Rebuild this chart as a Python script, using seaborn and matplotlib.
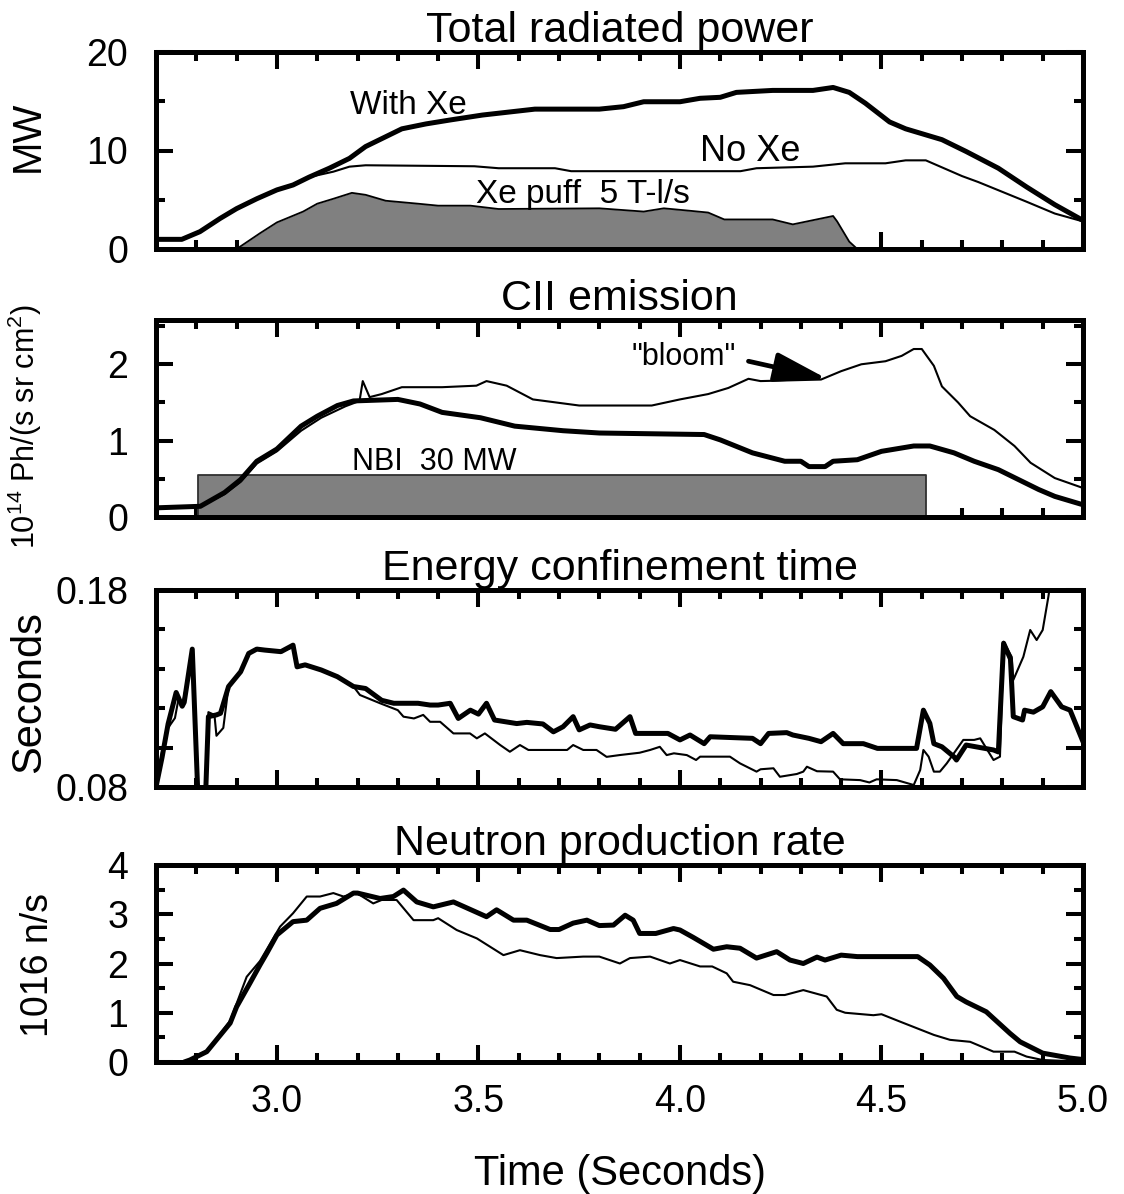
import numpy as np
import pandas as pd
import matplotlib
matplotlib.use("Agg")
import matplotlib.pyplot as plt
from matplotlib.ticker import MultipleLocator, FixedLocator, FixedFormatter
import seaborn as sns

# ---------------- data ----------------
# Panel 1: Total radiated power (MW)
p1_t_with = [2.70, 2.717, 2.764, 2.809, 2.859, 2.90, 2.95, 3.0, 3.04, 3.08, 3.13, 3.18, 3.22, 3.26, 3.31, 3.37,
             3.43, 3.51, 3.64, 3.80, 3.86, 3.91, 4.0, 4.05, 4.10, 4.14, 4.23, 4.33, 4.38, 4.42, 4.46, 4.52, 4.56,
             4.65, 4.71, 4.79, 4.86, 4.93, 5.0]
p1_v_with = [0.98, 0.98, 0.98, 1.76, 3.1, 4.1, 5.1, 6.0, 6.5, 7.3, 8.2, 9.2, 10.4, 11.2, 12.2, 12.7,
             13.1, 13.6, 14.2, 14.2, 14.45, 14.95, 14.95, 15.3, 15.4, 15.9, 16.1, 16.1, 16.4, 15.9, 14.8, 12.9, 12.2,
             11.1, 9.9, 8.2, 6.3, 4.5, 2.9]
p1_t_no = [2.70, 2.717, 2.764, 2.809, 2.859, 2.90, 2.95, 3.0, 3.04, 3.08, 3.14, 3.18, 3.22, 3.49, 3.55, 3.69,
           3.73, 3.88, 4.15, 4.19, 4.33, 4.41, 4.51, 4.56, 4.61, 4.70, 4.74, 4.86, 4.93, 5.0]
p1_v_no = [0.98, 0.98, 0.98, 1.76, 3.1, 4.1, 5.1, 6.0, 6.5, 7.3, 7.85, 8.36, 8.5, 8.4, 8.2, 8.2,
           7.9, 7.9, 7.9, 8.2, 8.36, 8.7, 8.7, 9.0, 9.0, 7.4, 6.8, 4.8, 3.6, 2.8]
p1_t_puff = [2.90, 2.958, 3.0, 3.065, 3.10, 3.14, 3.186, 3.22, 3.27, 3.35, 3.40, 3.48, 3.55, 3.80, 3.91, 3.96,
             4.02, 4.07, 4.11, 4.23, 4.28, 4.38, 4.39, 4.42, 4.44]
p1_v_puff = [0.0, 1.6, 2.7, 3.8, 4.6, 5.1, 5.7, 5.5, 4.9, 4.6, 4.4, 4.4, 4.06, 4.13, 3.8, 4.13,
             3.9, 3.7, 3.0, 3.0, 2.5, 3.35, 2.8, 0.75, 0.0]

# Panel 2: CII emission (1e14 Ph/(s sr cm2))
p2_t_thick = [2.70, 2.81, 2.87, 2.91, 2.95, 3.0, 3.06, 3.10, 3.15, 3.19, 3.30, 3.355, 3.41, 3.505, 3.59, 3.71,
              3.80, 4.06, 4.10, 4.18, 4.26, 4.30, 4.32, 4.36, 4.38, 4.44, 4.50, 4.58, 4.62, 4.68, 4.73, 4.79,
              4.84, 4.89, 4.93, 5.0]
p2_v_thick = [0.12, 0.14, 0.32, 0.49, 0.73, 0.89, 1.19, 1.32, 1.46, 1.52, 1.54, 1.48, 1.37, 1.30, 1.19, 1.13,
              1.10, 1.08, 1.01, 0.84, 0.73, 0.73, 0.66, 0.66, 0.73, 0.75, 0.86, 0.93, 0.93, 0.84, 0.73, 0.62,
              0.49, 0.36, 0.27, 0.16]
p2_t_thin = [2.70, 2.81, 2.87, 2.91, 2.95, 3.0, 3.06, 3.11, 3.17, 3.205, 3.213, 3.23, 3.26, 3.31, 3.41, 3.495,
             3.52, 3.57, 3.635, 3.75, 3.93, 4.0, 4.07, 4.12, 4.17, 4.20, 4.35, 4.40, 4.45, 4.51, 4.55, 4.58,
             4.60, 4.63, 4.65, 4.69, 4.72, 4.78, 4.83, 4.87, 4.93, 5.0]
p2_v_thin = [0.12, 0.14, 0.30, 0.46, 0.70, 0.86, 1.13, 1.30, 1.45, 1.52, 1.78, 1.57, 1.61, 1.70, 1.70, 1.72,
             1.78, 1.72, 1.54, 1.46, 1.46, 1.54, 1.61, 1.69, 1.81, 1.78, 1.80, 1.91, 2.0, 2.04, 2.11, 2.2,
             2.2, 1.98, 1.71, 1.50, 1.32, 1.14, 0.93, 0.71, 0.51, 0.38]
nbi_start = 2.805
nbi_end = 4.61
nbi_level = 0.55

# Panel 3: Energy confinement time (s)
p3_t_thick = [2.70, 2.715, 2.73, 2.75, 2.765, 2.77, 2.79, 2.805, 2.822, 2.83, 2.85, 2.86, 2.88, 2.91, 2.93, 2.95,
              2.97, 3.01, 3.04, 3.05, 3.07, 3.11, 3.15, 3.19, 3.22, 3.26, 3.29, 3.35, 3.38, 3.40, 3.43, 3.45,
              3.48, 3.50, 3.52, 3.54, 3.595, 3.62, 3.66, 3.686, 3.71, 3.735, 3.75, 3.777, 3.80, 3.84, 3.876,
              3.89, 3.97, 4.0, 4.025, 4.06, 4.075, 4.18, 4.20, 4.22, 4.265, 4.28, 4.32, 4.35, 4.38, 4.405,
              4.455, 4.49, 4.587, 4.604, 4.62, 4.63, 4.65, 4.68, 4.686, 4.71, 4.778, 4.79, 4.803, 4.82, 4.827,
              4.85, 4.855, 4.877, 4.90, 4.92, 4.947, 4.968, 5.0]
p3_v_thick = [0.080, 0.095, 0.112, 0.128, 0.121, 0.123, 0.150, 0.070, 0.070, 0.1157, 0.1166, 0.1174, 0.131, 0.1385,
              0.1478, 0.150, 0.1495, 0.1487, 0.152, 0.141, 0.142, 0.1394, 0.136, 0.131, 0.130, 0.124, 0.1225,
              0.1225, 0.1216, 0.1216, 0.1225, 0.1148, 0.119, 0.117, 0.1225, 0.114, 0.1122, 0.1128, 0.112, 0.108,
              0.1106, 0.1157, 0.109, 0.1115, 0.1106, 0.1093, 0.1157, 0.1072, 0.1072, 0.1039, 0.1064, 0.102,
              0.1055, 0.1047, 0.102, 0.1072, 0.1076, 0.1064, 0.1047, 0.103, 0.1072, 0.102, 0.102, 0.0996, 0.0996,
              0.119, 0.1123, 0.102, 0.1004, 0.0953, 0.0937, 0.1013, 0.0988, 0.0978, 0.153, 0.145, 0.1157, 0.114,
              0.119, 0.118, 0.1207, 0.1284, 0.1207, 0.119, 0.1030]
p3_t_thin = [2.70, 2.715, 2.73, 2.747, 2.757, 2.765, 2.79, 2.805, 2.82, 2.83, 2.845, 2.85, 2.867, 2.88, 2.91,
             2.93, 2.95, 2.97, 3.01, 3.04, 3.05, 3.07, 3.11, 3.15, 3.19, 3.206, 3.256, 3.30, 3.314, 3.34, 3.363,
             3.38, 3.405, 3.438, 3.479, 3.496, 3.516, 3.554, 3.578, 3.603, 3.624, 3.72, 3.735, 3.76, 3.793,
             3.818, 3.85, 3.90, 3.926, 3.95, 3.967, 3.985, 4.017, 4.04, 4.05, 4.124, 4.149, 4.19, 4.20, 4.232,
             4.248, 4.29, 4.306, 4.315, 4.34, 4.38, 4.397, 4.447, 4.47, 4.488, 4.538, 4.58, 4.596, 4.604, 4.617,
             4.63, 4.645, 4.662, 4.703, 4.73, 4.745, 4.778, 4.794, 4.803, 4.823, 4.827, 4.852, 4.869, 4.885,
             4.90, 4.914, 4.92, 4.95, 5.0]
p3_v_thin = [0.080, 0.098, 0.110, 0.115, 0.126, 0.121, 0.148, 0.070, 0.070, 0.118, 0.1166, 0.106, 0.110, 0.131,
             0.1385, 0.1478, 0.150, 0.1495, 0.1487, 0.151, 0.141, 0.142, 0.1394, 0.136, 0.131, 0.1267, 0.1225,
             0.119, 0.1157, 0.1148, 0.1166, 0.1131, 0.1131, 0.1072, 0.1072, 0.1047, 0.1072, 0.1013, 0.0979,
             0.1013, 0.0988, 0.0988, 0.1013, 0.0988, 0.0988, 0.0953, 0.0962, 0.0974, 0.0988, 0.1004, 0.0962,
             0.0971, 0.0962, 0.0937, 0.0954, 0.0954, 0.092, 0.0878, 0.089, 0.0895, 0.0852, 0.0866, 0.0878,
             0.0903, 0.088, 0.0878, 0.0839, 0.0835, 0.0823, 0.0839, 0.0835, 0.081, 0.0886, 0.0988, 0.0954,
             0.0878, 0.0878, 0.092, 0.1039, 0.1039, 0.1047, 0.0937, 0.0954, 0.1537, 0.1461, 0.1343, 0.1461,
             0.1597, 0.1546, 0.1597, 0.1765, 0.185, 0.195, 0.200]

# Panel 4: Neutron production rate (1e16 n/s)
p4_t_thick = [2.77, 2.784, 2.826, 2.86, 2.884, 2.90, 2.933, 2.958, 2.975, 3.0, 3.04, 3.074, 3.107, 3.148, 3.19,
              3.20, 3.256, 3.289, 3.314, 3.347, 3.388, 3.438, 3.52, 3.545, 3.587, 3.62, 3.678, 3.70, 3.735,
              3.769, 3.80, 3.835, 3.864, 3.884, 3.90, 3.94, 3.984, 4.0, 4.033, 4.083, 4.116, 4.149, 4.19, 4.24,
              4.273, 4.306, 4.34, 4.36, 4.40, 4.44, 4.59, 4.62, 4.654, 4.687, 4.71, 4.76, 4.819, 4.844, 4.90,
              4.968, 5.0]
p4_v_thick = [0.0, 0.04, 0.21, 0.55, 0.79, 1.12, 1.60, 1.97, 2.21, 2.58, 2.85, 2.88, 3.12, 3.22, 3.43,
              3.43, 3.32, 3.36, 3.49, 3.25, 3.15, 3.25, 2.95, 3.09, 2.88, 2.88, 2.69, 2.69, 2.82,
              2.88, 2.77, 2.78, 2.98, 2.88, 2.61, 2.61, 2.71, 2.68, 2.53, 2.29, 2.34, 2.31, 2.11, 2.24,
              2.07, 2.0, 2.13, 2.07, 2.17, 2.14, 2.14, 1.97, 1.70, 1.33, 1.22, 1.02, 0.58, 0.41, 0.18,
              0.08, 0.05]
p4_t_thin = [2.77, 2.784, 2.826, 2.86, 2.884, 2.925, 2.958, 3.008, 3.04, 3.074, 3.107, 3.14, 3.165, 3.198, 3.239,
             3.26, 3.297, 3.339, 3.388, 3.40, 3.446, 3.496, 3.562, 3.603, 3.653, 3.694, 3.76, 3.80, 3.851,
             3.876, 3.926, 3.975, 4.0, 4.05, 4.08, 4.116, 4.132, 4.174, 4.232, 4.26, 4.306, 4.364, 4.389,
             4.41, 4.48, 4.50, 4.546, 4.63, 4.67, 4.72, 4.778, 4.83, 4.86, 4.90, 4.96, 5.0]
p4_v_thin = [0.0, 0.04, 0.23, 0.58, 0.84, 1.73, 2.05, 2.75, 3.02, 3.36, 3.36, 3.43, 3.36, 3.43, 3.22,
             3.29, 3.29, 2.88, 2.88, 2.92, 2.68, 2.51, 2.17, 2.27, 2.17, 2.11, 2.14, 2.14, 2.0,
             2.11, 2.14, 2.0, 2.07, 1.94, 1.94, 1.80, 1.63, 1.56, 1.36, 1.36, 1.46, 1.33, 1.06,
             1.0, 0.95, 0.97, 0.82, 0.55, 0.45, 0.41, 0.21, 0.21, 0.11, 0.04, 0.02, 0.01]

titles = ["Total radiated power", "CII emission", "Energy confinement time", "Neutron production rate"]
ylabels = ["MW", "10$^{14}$ Ph/(s sr cm$^{2}$)", "Seconds", "1016 n/s"]
xticks = [3.0, 3.5, 4.0, 4.5, 5.0]
xticklabels = ["3.0", "3.5", "4.0", "4.5", "5.0"]

# ---------------- style ----------------
sns.set_theme(style="ticks")
plt.rcParams['font.family'] = ['Liberation Sans', 'DejaVu Sans']
plt.rcParams['mathtext.fontset'] = 'custom'
plt.rcParams['mathtext.rm'] = 'Liberation Sans'
plt.rcParams['mathtext.it'] = 'Liberation Sans:italic'
plt.rcParams['mathtext.bf'] = 'Liberation Sans:bold'
plt.rcParams['text.color'] = 'black'
plt.rcParams['axes.labelcolor'] = 'black'
plt.rcParams['xtick.color'] = 'black'
plt.rcParams['ytick.color'] = 'black'
plt.rcParams['lines.solid_joinstyle'] = 'round'

fig = plt.figure(figsize=(11.24, 11.94), dpi=100)
W, H = 1124.0, 1194.0
left_px, right_px = 156, 1083
tops = [52, 320, 590, 865]
bots = [249, 517, 787, 1062]
axes = []
for tp, bt in zip(tops, bots):
    ax = fig.add_axes([left_px / W, 1 - bt / H, (right_px - left_px) / W, (bt - tp) / H])
    axes.append(ax)

THICK = 3.6
THIN = 1.5
TICK_FS = 27

def style_axis(ax):
    for s in ax.spines.values():
        s.set_linewidth(3.6)
        s.set_color('black')
        s.set_visible(True)
    ax.set_xlim(2.7, 5.0)
    ax.xaxis.set_major_locator(FixedLocator(xticks))
    ax.xaxis.set_minor_locator(MultipleLocator(0.1))
    ax.tick_params(which='both', direction='in', top=True, right=True, color='black',
                   labelsize=TICK_FS, labelcolor='black')
    ax.tick_params(which='major', length=12, width=2.9)
    ax.tick_params(which='minor', length=6.5, width=2.9)
    ax.tick_params(axis='y', pad=20)
    ax.tick_params(axis='x', pad=16)
    ax.set_facecolor('white')
    ax.grid(False)

# Panel 1
ax = axes[0]
ax.fill_between(p1_t_puff, 0, p1_v_puff, color='#808080', lw=0, zorder=1)
sns.lineplot(x=p1_t_puff, y=p1_v_puff, ax=ax, color='black', lw=1.3, estimator=None, sort=False, zorder=2)
sns.lineplot(x=p1_t_no, y=p1_v_no, ax=ax, color='black', lw=THIN, estimator=None, sort=False, zorder=3)
sns.lineplot(x=p1_t_with, y=p1_v_with, ax=ax, color='black', lw=THICK, estimator=None, sort=False, zorder=4)
ax.set_ylim(0, 20)
ax.yaxis.set_major_locator(FixedLocator([0, 10, 20]))
ax.yaxis.set_minor_locator(FixedLocator([5, 15]))
ax.text(3.325, 14.6, "With Xe", fontsize=24, ha='center', va='center', color='black')
ax.text(4.175, 9.85, "No Xe", fontsize=26, ha='center', va='center', color='black')
ax.text(3.76, 5.5, "Xe puff  5 T-l/s", fontsize=24, ha='center', va='center', color='black')

# Panel 2
ax = axes[1]
ax.fill_between([nbi_start, nbi_end], 0, nbi_level, color='#808080', lw=0, zorder=1)
ax.plot([nbi_start, nbi_start, nbi_end, nbi_end], [0, nbi_level, nbi_level, 0], color='#303030', lw=1.3, zorder=2)
sns.lineplot(x=p2_t_thin, y=p2_v_thin, ax=ax, color='black', lw=THIN, estimator=None, sort=False, zorder=3)
sns.lineplot(x=p2_t_thick, y=p2_v_thick, ax=ax, color='black', lw=THICK, estimator=None, sort=False, zorder=4)
ax.set_ylim(0, 2.58)
ax.yaxis.set_major_locator(FixedLocator([0, 1, 2]))
ax.yaxis.set_minor_locator(FixedLocator([0.5, 1.5, 2.5]))
ax.text(3.39, 0.72, "NBI  30 MW", fontsize=22, ha='center', va='center', color='black')
ax.text(4.01, 2.09, '"bloom"', fontsize=22, ha='center', va='center', color='black')
ax.annotate('', xy=(4.365, 1.81), xytext=(4.17, 2.04),
            arrowprops=dict(arrowstyle='-|>,head_length=1.6,head_width=0.45', color='black', lw=3.4,
                            mutation_scale=20, shrinkA=0, shrinkB=0), zorder=5)

# Panel 3
ax = axes[2]
sns.lineplot(x=p3_t_thin, y=p3_v_thin, ax=ax, color='black', lw=THIN, estimator=None, sort=False, zorder=3)
sns.lineplot(x=p3_t_thick, y=p3_v_thick, ax=ax, color='black', lw=THICK, estimator=None, sort=False, zorder=4)
ax.set_ylim(0.08, 0.18)
ax.yaxis.set_major_locator(FixedLocator([0.08, 0.10, 0.18]))
ax.yaxis.set_major_formatter(FixedFormatter(["0.08", "", "0.18"]))
ax.yaxis.set_minor_locator(FixedLocator([0.12, 0.14, 0.16]))

# Panel 4
ax = axes[3]
sns.lineplot(x=p4_t_thin, y=p4_v_thin, ax=ax, color='black', lw=THIN, estimator=None, sort=False, zorder=3)
sns.lineplot(x=p4_t_thick, y=p4_v_thick, ax=ax, color='black', lw=THICK, estimator=None, sort=False, zorder=4)
ax.set_ylim(0, 4)
ax.yaxis.set_major_locator(FixedLocator([0, 1, 2, 3, 4]))
ax.yaxis.set_minor_locator(FixedLocator([0.5, 1.5, 2.5, 3.5]))

label_x = [-0.138, -0.141, -0.137, -0.127]
label_y = [0.57, 0.46, 0.48, 0.49]
label_fs = [29, 22, 30, 27]
for i, ax in enumerate(axes):
    style_axis(ax)
    ax.set_title(titles[i], fontsize=31, pad=7, color='black')
    ax.set_ylabel(ylabels[i], fontsize=label_fs[i], color='black')
    ax.yaxis.set_label_coords(label_x[i], label_y[i])
    ax.yaxis.label.set_va('center')
    ax.yaxis.label.set_ha('center')
    if i < 3:
        ax.tick_params(axis='x', which='both', labelbottom=False)
        ax.set_xlabel('')

axes[3].xaxis.set_major_formatter(FixedFormatter(xticklabels))
axes[3].set_xlabel("Time (Seconds)", fontsize=30, labelpad=24, color='black')

fig.savefig("out.png", dpi=100, facecolor='white')
